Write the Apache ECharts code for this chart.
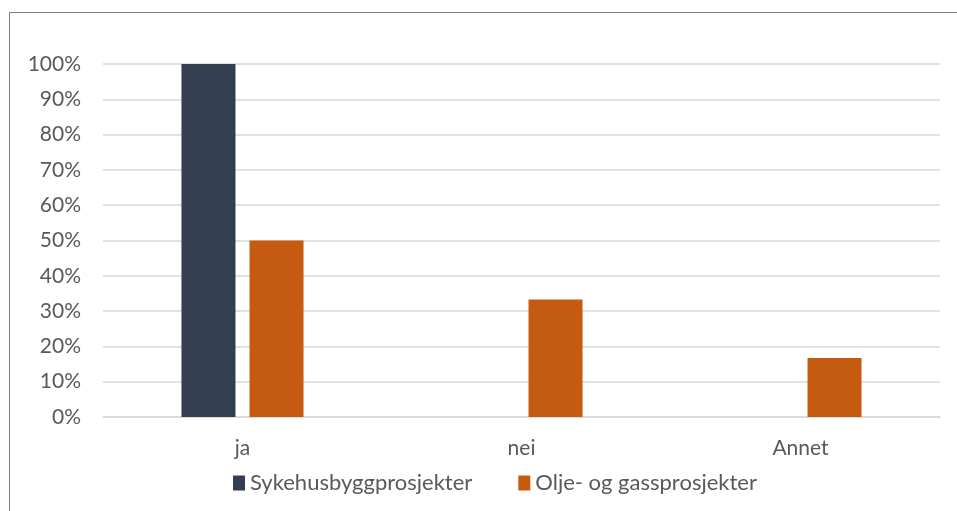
<!DOCTYPE html>
<html>
<head>
<meta charset="utf-8">
<script src="https://cdn.jsdelivr.net/npm/echarts@6/dist/echarts.min.js"></script>
<style>
    html,body{margin:0;padding:0;background:#fff;}
    #wrap{position:relative;width:957px;height:511px;overflow:hidden;}
    #frame{position:absolute;left:9px;top:12px;width:1000px;height:600px;border:1px solid #7f7f7f;box-sizing:border-box;}
    #chart{position:absolute;left:0;top:0;width:957px;height:511px;}
</style>
</head>
<body>
<div id="wrap">
    <div id="frame"></div>
    <div id="chart"></div>
</div>
<script>
    const categories = ['ja', 'nei', 'Annet'];
    const sykehus = [100, 0, 0];          // Sykehusbyggprosjekter
    const oljeGass = [50, 33.3, 16.7];    // Olje- og gassprosjekter
    const yTicks = [0, 10, 20, 30, 40, 50, 60, 70, 80, 90, 100];

    const labelColor = '#595959';
    const font = 'Lato, "Open Sans", sans-serif';

    const chart = echarts.init(document.getElementById('chart'));
    chart.setOption({
        animation: false,
        grid: {left: 103, right: 17, top: 64, bottom: 94},
        legend: {
            top: 467,
            left: 228,
            itemWidth: 12,
            itemHeight: 15,
            itemGap: 46,
            icon: 'rect',
            textStyle: {color: labelColor, fontSize: 22, fontFamily: font},
            data: ['Sykehusbyggprosjekter', 'Olje- og gassprosjekter']
        },
        xAxis: {
            type: 'category',
            data: categories,
            axisTick: {show: false},
            axisLine: {show: true, lineStyle: {color: '#d9d9d9', width: 1.5}},
            axisLabel: {color: labelColor, fontSize: 21, fontFamily: font, margin: 21}
        },
        yAxis: {
            type: 'value',
            min: yTicks[0],
            max: yTicks[yTicks.length - 1],
            interval: 10,
            axisLine: {show: false},
            axisTick: {show: false},
            splitLine: {lineStyle: {color: '#d9d9d9', width: 1.5}},
            axisLabel: {color: labelColor, fontSize: 21, fontFamily: font, margin: 22, formatter: '{value}%'}
        },
        series: [
            {
                name: 'Sykehusbyggprosjekter',
                type: 'bar',
                barWidth: 54,
                barGap: '26%',
                itemStyle: {color: '#333f50'},
                data: sykehus
            },
            {
                name: 'Olje- og gassprosjekter',
                type: 'bar',
                barWidth: 54,
                barGap: '26%',
                itemStyle: {color: '#c55a11'},
                data: oljeGass
            }
        ]
    });
</script>
</body>
</html>
